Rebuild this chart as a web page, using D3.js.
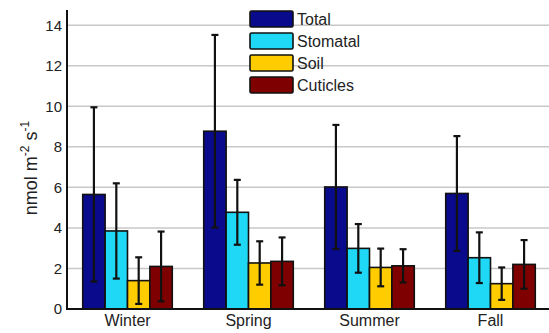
<!DOCTYPE html>
<html>
<head>
<meta charset="utf-8">
<script src="https://cdn.jsdelivr.net/npm/d3@7"></script>
<style>
  html, body { margin: 0; padding: 0; background: #fff; }
  svg { display: block; font-family: Arial, "Liberation Sans", sans-serif; }
</style>
</head>
<body>
<svg id="chart" width="549" height="333"></svg>
<script>
// Seasonal fluxes (nmol m^-2 s^-1): means and error half-widths
const seasons = ["Winter", "Spring", "Summer", "Fall"];
const seriesNames = ["Total", "Stomatal", "Soil", "Cuticles"];
const seriesColors = ["#0a0a8c", "#1fd8f5", "#ffcc00", "#7f0000"];
const totalMean    = [5.65, 8.77, 6.02, 5.70];
const totalErr     = [4.30, 4.75, 3.06, 2.83];
const stomatalMean = [3.85, 4.77, 2.99, 2.53];
const stomatalErr  = [2.35, 1.60, 1.20, 1.25];
const soilMean     = [1.40, 2.27, 2.05, 1.25];
const soilErr      = [1.15, 1.07, 0.93, 0.80];
const cuticlesMean = [2.10, 2.35, 2.13, 2.20];
const cuticlesErr  = [1.72, 1.18, 0.82, 1.20];
const yTicks = [0, 2, 4, 6, 8, 10, 12, 14];

const means = [totalMean, stomatalMean, soilMean, cuticlesMean];
const errs = [totalErr, stomatalErr, soilErr, cuticlesErr];

const rows = [];
seasons.forEach((s, i) => {
  seriesNames.forEach((n, j) => {
    rows.push({ season: s, series: n, value: means[j][i], err: errs[j][i], color: seriesColors[j] });
  });
});

const svg = d3.select("#chart");
const plotLeft = 67, plotRight = 551, plotTop = 10, plotBottom = 309;

const x = d3.scaleBand().domain(seasons).range([plotLeft, plotRight]).paddingInner(0.26).paddingOuter(0.13);
const xs = d3.scaleBand().domain(seriesNames).range([0, x.bandwidth()]);
const y = d3.scaleLinear().domain([0, 14.75]).range([plotBottom, plotTop]);

// horizontal grid
svg.append("g")
  .selectAll("line")
  .data(yTicks.filter(d => d > 0))
  .join("line")
  .attr("x1", plotLeft).attr("x2", 549)
  .attr("y1", d => y(d)).attr("y2", d => y(d))
  .attr("stroke", "#c8c8c8").attr("stroke-width", 1.5);

// bars
svg.append("g")
  .selectAll("rect")
  .data(rows)
  .join("rect")
  .attr("x", d => x(d.season) + xs(d.series))
  .attr("y", d => y(d.value))
  .attr("width", xs.bandwidth())
  .attr("height", d => y(0) - y(d.value))
  .attr("fill", d => d.color)
  .attr("stroke", "#111")
  .attr("stroke-width", 1.6);

// error bars
const eb = svg.append("g").attr("stroke", "#111").attr("stroke-width", 2.2);
rows.forEach(d => {
  const cx = x(d.season) + xs(d.series) + xs.bandwidth() / 2;
  const y1 = y(d.value + d.err), y0 = y(d.value - d.err);
  eb.append("line").attr("x1", cx).attr("x2", cx).attr("y1", y1).attr("y2", y0);
  eb.append("line").attr("x1", cx - 3.5).attr("x2", cx + 3.5).attr("y1", y1).attr("y2", y1);
  eb.append("line").attr("x1", cx - 3.5).attr("x2", cx + 3.5).attr("y1", y0).attr("y2", y0);
});

// y axis
const yAxis = svg.append("g")
  .attr("transform", `translate(${plotLeft},0)`)
  .call(d3.axisLeft(y).tickValues(yTicks).tickSize(0).tickPadding(5).tickFormat(d3.format("d")));
yAxis.select(".domain").remove();
yAxis.selectAll("text").attr("font-size", 15).attr("fill", "#222")
  .attr("font-family", "Arial, 'Liberation Sans', sans-serif");

// x axis
const xAxis = svg.append("g")
  .attr("transform", `translate(0,${plotBottom})`)
  .call(d3.axisBottom(x).tickSize(0).tickPadding(6));
xAxis.select(".domain").remove();
xAxis.selectAll("text").attr("font-size", 16).attr("fill", "#222")
  .attr("font-family", "Arial, 'Liberation Sans', sans-serif");

// axis lines
svg.append("line").attr("x1", plotLeft).attr("x2", plotLeft).attr("y1", plotTop).attr("y2", plotBottom + 1)
  .attr("stroke", "#111").attr("stroke-width", 2);
svg.append("line").attr("x1", plotLeft - 1).attr("x2", 549).attr("y1", plotBottom).attr("y2", plotBottom)
  .attr("stroke", "#111").attr("stroke-width", 2);

// y label
const yl = svg.append("text")
  .attr("transform", "translate(37,168) rotate(-90)")
  .attr("text-anchor", "middle")
  .attr("font-size", 18).attr("fill", "#222");
yl.append("tspan").text("nmol m");
yl.append("tspan").text("-2").attr("font-size", 12).attr("dy", -8);
yl.append("tspan").text(" s").attr("dy", 8);
yl.append("tspan").text("-1").attr("font-size", 12).attr("dy", -8);

// legend
const lg = svg.append("g").attr("transform", "translate(250,11)");
seriesNames.forEach((n, j) => {
  const g = lg.append("g").attr("transform", `translate(0,${j * 22})`);
  g.append("rect").attr("width", 43).attr("height", 16).attr("rx", 1.5)
    .attr("fill", seriesColors[j]).attr("stroke", "#111").attr("stroke-width", 1.6);
  g.append("text").attr("x", 47).attr("y", 14).attr("font-size", 16).attr("fill", "#222").text(n);
});
</script>
</body>
</html>
